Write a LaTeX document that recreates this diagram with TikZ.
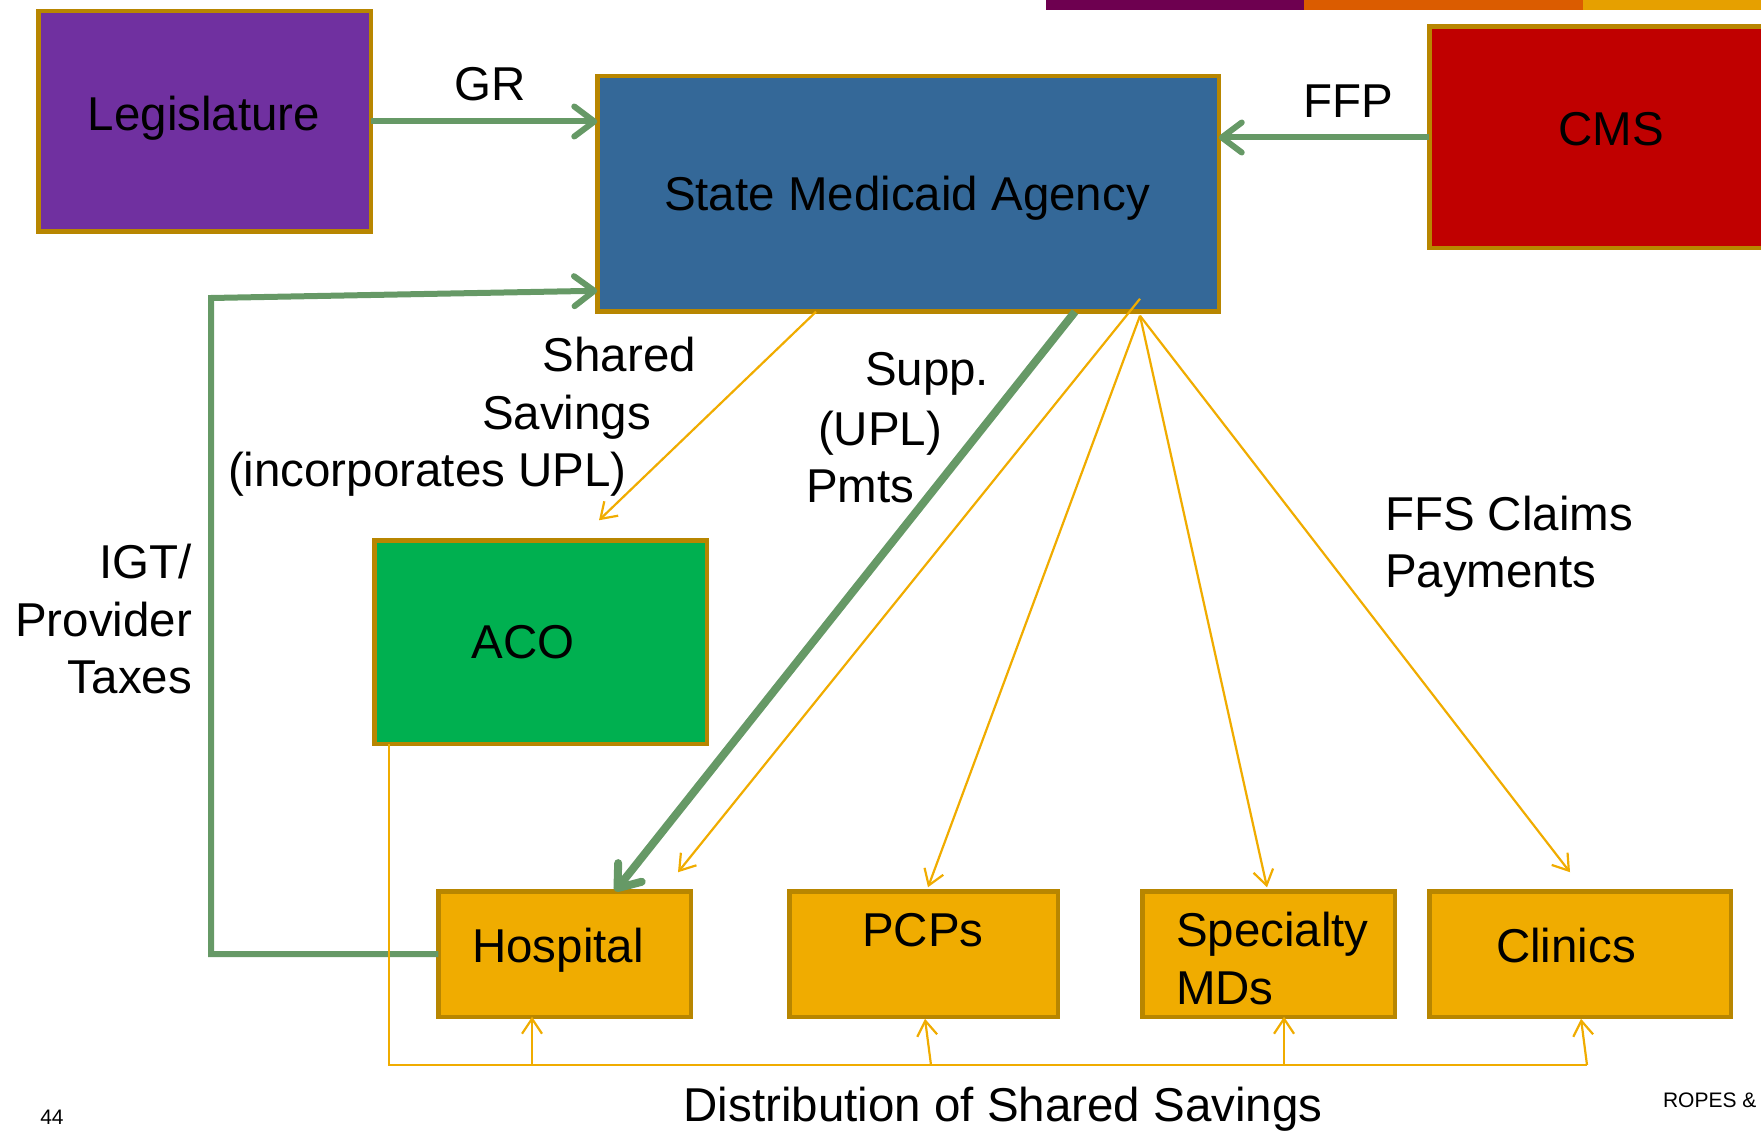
\documentclass[tikz,border=0pt]{standalone}
\usepackage{fontspec}
\setmainfont{Liberation Sans}
\usetikzlibrary{arrows.meta,calc}
\definecolor{bord}{RGB}{184,134,0}
\definecolor{legp}{RGB}{112,48,160}
\definecolor{smab}{RGB}{52,104,152}
\definecolor{cmsr}{RGB}{192,0,0}
\definecolor{acog}{RGB}{0,176,80}
\definecolor{provo}{RGB}{240,172,0}
\definecolor{flowg}{RGB}{102,153,102}
\definecolor{barp}{RGB}{110,0,80}
\definecolor{baro}{RGB}{219,92,0}
\definecolor{bara}{RGB}{230,160,0}
\newcommand\bigfnt{\fontsize{47.5}{58}\selectfont}
\newcommand\smallfnt{\fontsize{21}{25}\selectfont}
\begin{document}
\begin{tikzpicture}[x=1pt,y=-1pt,
 box/.style={draw=bord, line width=4.5pt, inner sep=0pt, outer sep=0pt},
 lbl/.style={font=\bigfnt, inner sep=0pt, outer sep=0pt, text=black},
 sml/.style={font=\smallfnt, inner sep=0pt, outer sep=0pt, text=black},
 gflow/.style={draw=flowg, line width=6pt, -{Straight Barb[length=20pt,width=30pt,round]}},
 oflow/.style={draw=provo, line width=2.2pt, -{Straight Barb[length=15pt,width=20pt]}},
 oline/.style={draw=provo, line width=2.2pt}]
\useasboundingbox (0,0) rectangle (1761,1131);
\clip (0,0) rectangle (1761,1131);
% top colour bar
\fill[barp] (1046,0) rectangle (1304,10);
\fill[baro] (1304,0) rectangle (1583,10);
\fill[bara] (1583,0) rectangle (1761,10);
% boxes
\node[box, fill=legp, minimum width=332.5pt, minimum height=220.5pt] (leg) at (204.5,121.5) {};
\node[box, fill=smab, minimum width=621.5pt, minimum height=235.5pt] (sma) at (908,194) {};
\node[box, fill=cmsr, minimum width=368.5pt, minimum height=221.5pt] (cms) at (1613.5,137.5) {};
\node[box, fill=acog, minimum width=332.5pt, minimum height=203.5pt] (aco) at (540.5,642) {};
\node[box, fill=provo, minimum width=252.5pt, minimum height=125.5pt] (hosp) at (564.5,954) {};
\node[box, fill=provo, minimum width=268.5pt, minimum height=125.5pt] (pcps) at (923.5,954) {};
\node[box, fill=provo, minimum width=252.5pt, minimum height=125.5pt] (spec) at (1268.5,954) {};
\node[box, fill=provo, minimum width=301.5pt, minimum height=125.5pt] (clin) at (1580,954) {};
% box texts
\node[lbl, anchor=base] (legt) at (204,131) {Legislature};
\node[lbl, anchor=base] (smat) at (907,211) {State Medicaid Agency};
\node[lbl, anchor=base] (cmst) at (1611,146) {CMS};
\node[lbl, anchor=base] (acot) at (523,658) {ACO};
\node[lbl, anchor=base] (hospt) at (558,962) {Hospital};
\node[lbl, anchor=base] (pcpst) at (923,946) {PCPs};
\node[lbl, anchor=base west] (spect1) at (1176,946) {Specialty};
\node[lbl, anchor=base west] (spect2) at (1176,1004) {MDs};
\node[lbl, anchor=base] (clint) at (1566,962) {Clinics};
% green flows
\draw[gflow] (leg.east) -- (leg.east -| sma.west);
\draw[gflow] (cms.west) -- (cms.west -| sma.east);
\coordinate (igtc) at (211,298);
\draw[gflow] (hosp.west) -| (igtc) -- ($(sma.south west)+(0,-21)$);
\draw[gflow, line width=8pt] ($(sma.south)+(167,0)$) -- ($(hosp.north)+(50.5,0)$);
% orange flows
\coordinate (fan) at ($(sma.south)+(232,4)$);
\draw[oflow] ($(sma.south)+(-92,0)$) -- ($(aco.north)+(58.5,-20)$);
\draw[oflow] ($(sma.south)+(232,-13)$) -- ($(hosp.north)+(113.5,-19)$);
\draw[oflow] (fan) -- ($(pcps.north)+(4.5,-4)$);
\draw[oflow] (fan) -- ($(spec.north)+(-1.5,-4)$);
\draw[oflow] (fan) -- ($(clin.north)+(-10,-19)$);
% distribution of shared savings
\coordinate (dstart) at ($(aco.south west)+(15,0)$);
\coordinate (dh) at (532,1065);
\coordinate (dp) at (931,1065);
\coordinate (ds) at (1284,1065);
\coordinate (dc) at (1587,1065);
\draw[oline] (dstart) |- (dc);
\draw[oflow] (dh) -- (dh |- hosp.south);
\draw[oflow] (dp) -- ($(pcps.south)+(1.5,2)$);
\draw[oflow] (ds) -- (ds |- spec.south);
\draw[oflow] (dc) -- ($(clin.south)+(1,2)$);
% labels
\node[lbl, anchor=base] (gr) at (490,101) {GR};
\node[lbl, anchor=base] (ffp) at (1348,118) {FFP};
\node[lbl, anchor=base east] (ss1) at (696,371) {Shared};
\node[lbl, anchor=base east] (ss2) at (651,429) {Savings};
\node[lbl, anchor=base west] (ss3) at (228,486) {(incorporates UPL)};
\node[lbl, anchor=base west] (sp1) at (865,385) {Supp.};
\node[lbl, anchor=base west] (sp2) at (818,445) {(UPL)};
\node[lbl, anchor=base west] (sp3) at (806,502) {Pmts};
\node[lbl, anchor=base west] (ffs1) at (1385,530) {FFS Claims};
\node[lbl, anchor=base west] (ffs2) at (1385,587) {Payments};
\node[lbl, anchor=base east] (igt1) at (192,578) {IGT/};
\node[lbl, anchor=base east] (igt2) at (192,636) {Provider};
\node[lbl, anchor=base east] (igt3) at (192,693) {Taxes};
\node[lbl, anchor=base] (dist) at (1003,1121) {Distribution of Shared Savings};
\node[sml, anchor=base] (pg) at (52,1124) {44};
\node[sml, anchor=base west] (rg) at (1663,1107) {ROPES \&};
\end{tikzpicture}
\end{document}
